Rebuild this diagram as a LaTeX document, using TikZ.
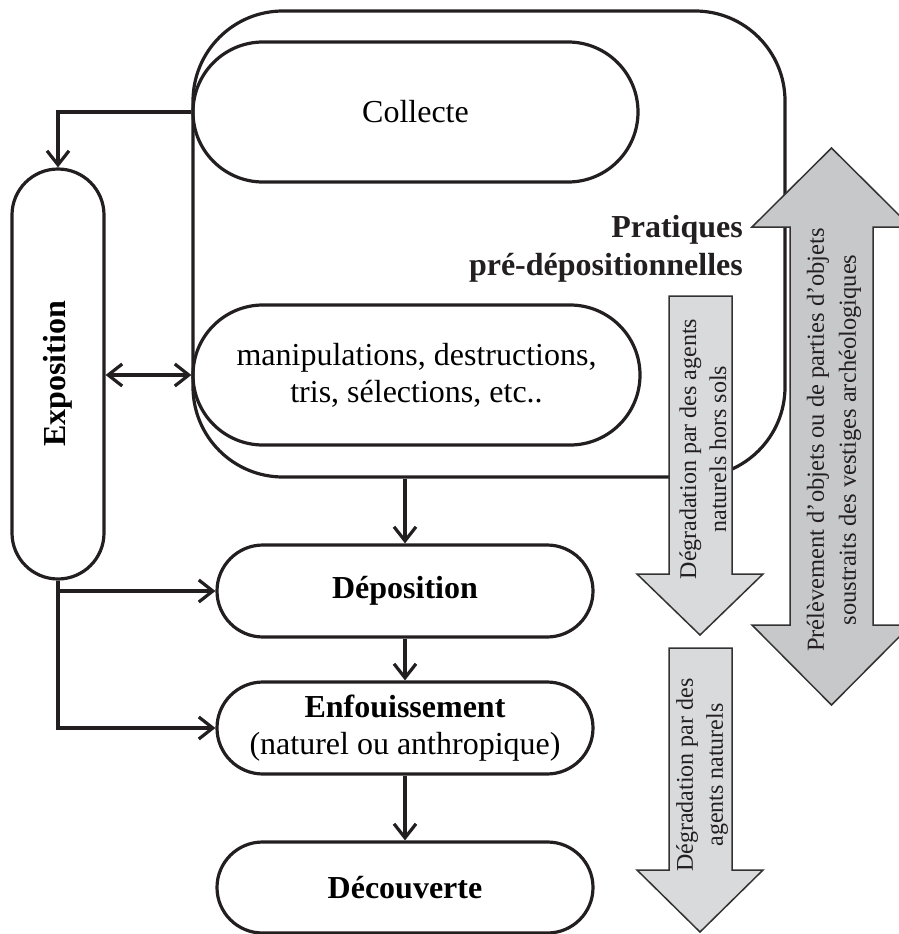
\documentclass[tikz,border=0pt]{standalone}
\usepackage{fontspec}
\setmainfont{Liberation Serif}
\usetikzlibrary{arrows.meta}
\definecolor{ink}{RGB}{35,31,32}
\definecolor{lightfill}{RGB}{217,218,219}
\definecolor{darkfill}{RGB}{199,200,201}
\definecolor{arrowline}{RGB}{50,50,50}
\begin{document}
\begin{tikzpicture}[x=1pt,y=-1pt,
  box/.style={draw=ink, line width=3.2pt, rectangle, inner sep=0pt, align=center,
    font=\fontsize{32}{37}\selectfont},
  arr/.style={draw=ink, line width=3.2pt, -{Straight Barb[length=14pt,width=22pt]}},
  dblarr/.style={draw=ink, line width=3.2pt, {Straight Barb[length=14pt,width=22pt]}-{Straight Barb[length=14pt,width=22pt]}},
  bigarrow/.style={draw=arrowline, line width=1.5pt, line join=miter},
  arrowtext/.style={rotate=90, align=center, inner sep=0pt, text=ink,
    font=\fontsize{24}{30}\selectfont}
]
\useasboundingbox (0,0) rectangle (899,934);
\clip (0,0) rectangle (899,934);

% outer frame
\node[draw=ink, line width=3.2pt, rounded corners=90pt, minimum width=592pt,
      minimum height=466pt, inner sep=0pt] (outer) at (489,244) {};

% boxes
\node[box, minimum width=445pt, minimum height=140pt, rounded corners=70pt] (col) at (415.5,112) {Collecte};
\node[box, minimum width=447pt, minimum height=140pt, rounded corners=70pt] (man) at (416.5,375)
  {manipulations, destructions,\\tris, sélections, etc..};
\node[box, minimum width=92pt, minimum height=410pt, rounded corners=46pt] (exp) at (58,374)
  {\rotatebox{90}{\bfseries Exposition}};
\node[box, minimum width=376pt, minimum height=92pt, rounded corners=46pt] (dep) at (405,591) {\bfseries Déposition};
\node[box, minimum width=376pt, minimum height=92pt, rounded corners=46pt] (enf) at (405,728)
  {\textbf{Enfouissement}\\(naturel ou anthropique)};
\node[box, minimum width=376pt, minimum height=91pt, rounded corners=45.5pt] (dec) at (405,887.5) {\bfseries Découverte};

\node[align=right, anchor=east, inner sep=0pt, text=ink,
      font=\fontsize{32}{38}\selectfont\bfseries] (prat) at (743,249)
  {Pratiques\\pré-dépositionnelles};

% connectors
\draw[arr] (col.west) -| (exp.north);
\draw[dblarr] (man.west -| exp.east) -- (man.west);
\draw[arr] (dep.north |- outer.south) -- (dep.north);
\draw[arr] (exp.south) |- (enf.west);
\draw[arr] (exp.south |- dep.west) -- (dep.west);
\draw[arr] (dep.south) -- (enf.north);
\draw[arr] (enf.south) -- (dec.north);

% big grey arrows
\draw[bigarrow, fill=lightfill] (669,296) -- (732,296) -- (732,574) -- (763,574) -- (700,635)
  -- (637,574) -- (669,574) -- cycle;
\node[arrowtext] (t1) at (703,449) {Dégradation par des agents\\naturels hors sols};

\draw[bigarrow, fill=lightfill] (669,648) -- (732,648) -- (732,870) -- (763,870) -- (700,932)
  -- (637,870) -- (669,870) -- cycle;
\node[arrowtext] (t2) at (702,775) {Dégradation par des\\agents naturels};

\draw[bigarrow, fill=darkfill] (831.5,148) -- (911,227) -- (873,227) -- (873,625) -- (911,625)
  -- (831.5,705) -- (752,625) -- (790,625) -- (790,227) -- (752,227) -- cycle;
\node[arrowtext, font=\fontsize{24.5}{32}\selectfont] (t3) at (834,440)
  {Prélèvement d’objets ou de parties d’objets\\soustraits des vestiges archéologiques};
\end{tikzpicture}
\end{document}
